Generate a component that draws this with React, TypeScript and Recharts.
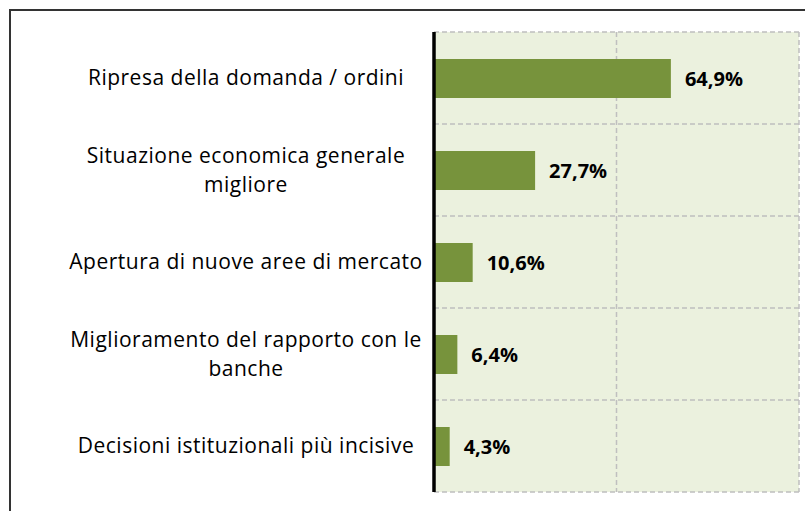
import { BarChart, Bar, XAxis, YAxis, CartesianGrid, LabelList } from "recharts";

const categories = [
  "Ripresa della domanda / ordini",
  "Situazione economica generale\nmigliore",
  "Apertura di nuove aree di mercato",
  "Miglioramento del rapporto con le\nbanche",
  "Decisioni istituzionali più incisive",
];
const values = [64.9, 27.7, 10.6, 6.4, 4.3];
const xTicks = [0, 50, 100];

const data = categories.map((name, i) => ({ name, value: values[i] }));

const labelFont = "'Open Sans', sans-serif";
const barColor = "#77933C";
const plotBg = "#EBF1DE";
const gridColor = "#BFBFBF";

const CategoryTick = (props: any) => {
  const { y, payload } = props;
  const lines = String(payload.value).split("\n");
  const lineH = 29;
  return (
    <text x={246} y={y} textAnchor="middle" fontFamily={labelFont} fontSize={21} letterSpacing={0.5} fill="#000">
      {lines.map((line, i) => (
        <tspan key={i} x={246} y={y + (i - (lines.length - 1) / 2) * lineH} dy="0.35em">
          {line}
        </tspan>
      ))}
    </text>
  );
};

const fmt = (v: any) => `${Number(v).toFixed(1).replace(".", ",")}%`;

export default function App() {
  return (
    <div style={{ position: "absolute", left: 0, top: 0, width: 805, height: 511, background: "#fff", overflow: "hidden" }}>
      <div
        style={{
          position: "absolute",
          left: 9,
          top: 9,
          width: 796,
          height: 502,
          boxSizing: "border-box",
          borderLeft: "2px solid #333",
          borderTop: "2px solid #333",
        }}
      />
      <div style={{ position: "absolute", left: 0, top: 0 }}>
        <BarChart
          width={805}
          height={511}
          data={data}
          layout="vertical"
          margin={{ top: 32, right: 6, bottom: 19, left: 0 }}
          barCategoryGap={0}
        >
          <CartesianGrid
            fill={plotBg}
            stroke={gridColor}
            strokeWidth={1.5}
            strokeDasharray="5 3"
            horizontalCoordinatesGenerator={({ offset }: any) =>
              categories.map((_, i) => offset.top + (i * offset.height) / categories.length).concat(offset.top + offset.height)
            }
          />
          <XAxis type="number" domain={[0, 100]} ticks={xTicks} hide />
          <YAxis
            type="category"
            dataKey="name"
            width={434}
            axisLine={{ stroke: "#000", strokeWidth: 3.5 }}
            tickLine={false}
            tick={<CategoryTick />}
            interval={0}
          />
          <Bar dataKey="value" fill={barColor} barSize={39} isAnimationActive={false}>
            <LabelList
              dataKey="value"
              position="right"
              offset={14}
              formatter={fmt}
              style={{ fontFamily: labelFont, fontWeight: 700, fontSize: 20, fill: "#000" }}
            />
          </Bar>
        </BarChart>
      </div>
    </div>
  );
}
